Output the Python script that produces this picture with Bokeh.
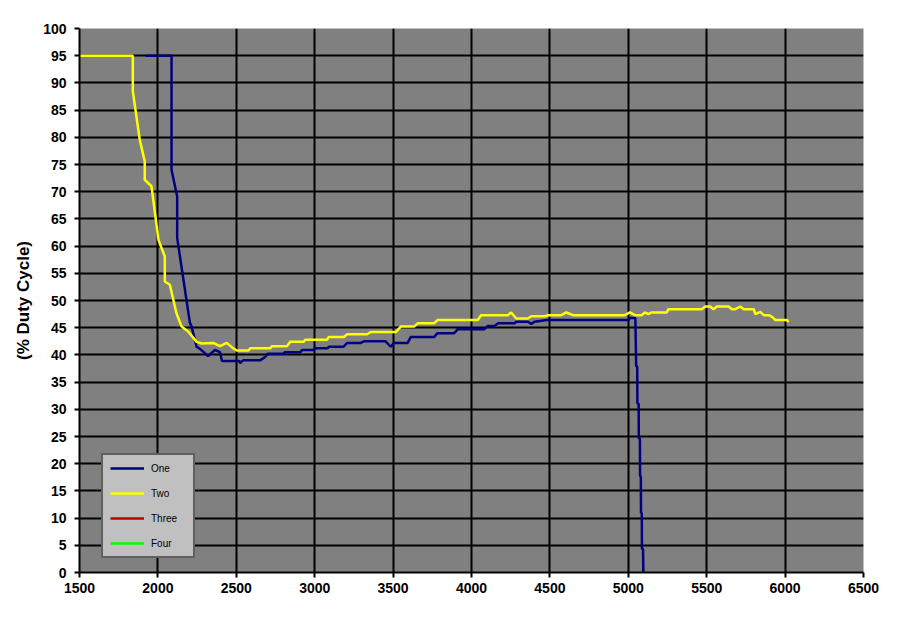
from bokeh.plotting import figure
from bokeh.models import FixedTicker, Legend, LegendItem, Range1d
from bokeh.embed import file_html
from bokeh.resources import INLINE

# Series "One"
one_x = [1922, 2087, 2087, 2123, 2123, 2204, 2215, 2247, 2268, 2320, 2364, 2396, 2409,
         2520, 2524, 2544, 2652, 2684, 2700, 2800, 2810, 2908, 2920, 2992, 3000, 3081,
         3090, 3184, 3207, 3293, 3314, 3452, 3485, 3506, 3593, 3613, 3762, 3783, 3890,
         3911, 4080, 4104, 4147, 4168, 4275, 4285, 4360, 4381, 4402, 4480, 5002, 5010,
         5045, 5050, 5057, 5058, 5066, 5067, 5074, 5075, 5080, 5081, 5086, 5087, 5094, 5096]
one_y = [95.0, 95.0, 74.0, 69.1, 61.5, 45.9, 45.2, 41.5, 41.1, 39.8, 40.9, 40.5, 38.9,
         38.9, 38.5, 39.0, 39.0, 39.6, 40.2, 40.2, 40.5, 40.5, 40.9, 40.9, 41.2, 41.2,
         41.5, 41.5, 42.2, 42.2, 42.5, 42.5, 41.5, 42.2, 42.2, 43.3, 43.3, 44.0, 44.0,
         44.7, 44.7, 45.3, 45.3, 45.8, 45.8, 46.1, 46.1, 45.7, 46.1, 46.4, 46.4, 46.8,
         46.8, 38.0, 37.8, 31.1, 31.0, 24.7, 24.6, 17.9, 17.5, 11.0, 10.9, 4.4, 4.3, 0.0]

# Series "Two"
two_x = [1500, 1840, 1840, 1884, 1916, 1916, 1959, 2004, 2044, 2044, 2076, 2119, 2151,
         2193, 2247, 2279, 2353, 2396, 2439, 2481, 2503, 2578, 2588, 2716, 2727, 2823,
         2844, 2930, 2940, 3079, 3090, 3186, 3207, 3335, 3357, 3517, 3549, 3634, 3656,
         3762, 3783, 4040, 4061, 4232, 4253, 4285, 4360, 4381, 4466, 4488, 4573, 4605,
         4648, 4978, 5010, 5042, 5085, 5106, 5128, 5149, 5245, 5256, 5469, 5490, 5522,
         5544, 5565, 5640, 5661, 5682, 5714, 5736, 5800, 5810, 5842, 5864, 5896, 5917,
         5939, 6013, 6020]
two_y = [95.0, 95.0, 88.5, 79.6, 75.6, 72.2, 71.0, 61.1, 58.1, 53.5, 52.9, 47.6, 45.2,
         44.3, 42.4, 42.1, 42.2, 41.6, 42.2, 41.2, 40.8, 40.8, 41.2, 41.2, 41.6, 41.6,
         42.4, 42.4, 42.8, 42.8, 43.3, 43.3, 43.8, 43.8, 44.2, 44.2, 45.2, 45.2, 45.8,
         45.8, 46.4, 46.4, 47.3, 47.3, 47.8, 46.7, 46.7, 47.1, 47.1, 47.3, 47.3, 47.8,
         47.3, 47.3, 47.8, 47.3, 47.3, 47.8, 47.5, 47.8, 47.8, 48.4, 48.4, 48.9, 48.9,
         48.4, 48.9, 48.9, 48.4, 48.4, 48.9, 48.4, 48.4, 47.5, 47.9, 47.3, 47.3, 47.0,
         46.4, 46.4, 46.0]

# Series "Three" and "Four" have no points (legend only)
three_x = [float("nan")]
three_y = [float("nan")]
four_x = [float("nan")]
four_y = [float("nan")]

series_names = ["One", "Two", "Three", "Four"]
series_colors = ["#000080", "#FFFF00", "#C00000", "#00FF00"]

x_ticks = list(range(1500, 6501, 500))
y_ticks = list(range(0, 101, 5))

FONT = "Liberation Sans"

p = figure(frame_width=784, frame_height=544,
           x_range=Range1d(1500, 6500), y_range=Range1d(0, 100),
           output_backend="svg", toolbar_location=None,
           min_border_left=79, min_border_top=28, min_border_right=40, min_border_bottom=42)

p.background_fill_color = "#808080"
p.border_fill_color = "white"
p.outline_line_color = None

for g in (p.xgrid, p.ygrid):
    g.grid_line_color = "black"
    g.grid_line_width = 2

p.xaxis.ticker = FixedTicker(ticks=x_ticks)
p.yaxis.ticker = FixedTicker(ticks=y_ticks)
for ax in (p.xaxis, p.yaxis):
    ax.axis_line_color = "black"
    ax.axis_line_width = 2
    ax.major_tick_line_color = "black"
    ax.major_tick_line_width = 2
    ax.major_tick_out = 5
    ax.major_tick_in = 0
    ax.minor_tick_line_color = None
    ax.major_label_text_font = FONT
    ax.major_label_text_font_style = "bold"
    ax.major_label_text_font_size = "14px"
    ax.major_label_text_color = "black"

p.xaxis.major_label_standoff = 5
p.yaxis.major_label_standoff = 8
p.yaxis.axis_label = "(% Duty Cycle)"
p.yaxis.axis_label_text_font = FONT
p.yaxis.axis_label_text_font_style = "bold"
p.yaxis.axis_label_text_font_size = "17px"
p.yaxis.axis_label_text_color = "black"
p.yaxis.axis_label_standoff = 7

r1 = p.line(one_x, one_y, line_color=series_colors[0], line_width=2.5)
r2 = p.line(two_x, two_y, line_color=series_colors[1], line_width=2.5)
r3 = p.line(three_x, three_y, line_color=series_colors[2], line_width=2.5)
r4 = p.line(four_x, four_y, line_color=series_colors[3], line_width=2.5)

legend = Legend(items=[LegendItem(label=n, renderers=[r]) for n, r in
                       zip(series_names, [r1, r2, r3, r4])],
                location=(22, 14))
legend.border_line_color = "black"
legend.border_line_width = 2
legend.background_fill_color = "#C0C0C0"
legend.background_fill_alpha = 1
legend.padding = 7
legend.spacing = 13
legend.margin = 0
legend.glyph_height = 12
legend.glyph_width = 34
legend.label_height = 12
legend.label_width = 35
legend.label_standoff = 7
legend.label_text_font = FONT
legend.label_text_font_size = "10px"
legend.label_text_color = "black"
p.add_layout(legend)

open("out.html", "w").write(file_html(p, INLINE))
